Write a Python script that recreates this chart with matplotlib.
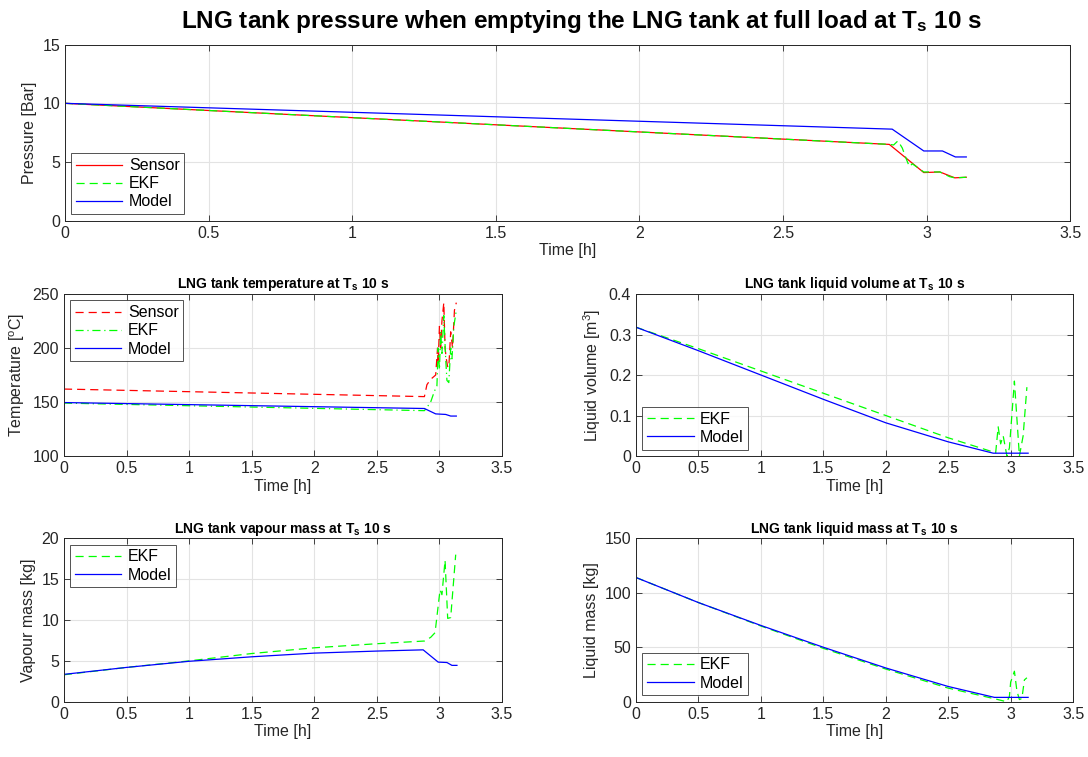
import matplotlib.pyplot as plt
from matplotlib import rcParams

rcParams['font.family'] = ['Liberation Sans', 'DejaVu Sans']
rcParams['mathtext.fontset'] = 'custom'
rcParams['mathtext.rm'] = 'Liberation Sans'
rcParams['mathtext.it'] = 'Liberation Sans'
rcParams['mathtext.bf'] = 'Liberation Sans:bold'
rcParams['lines.dashed_pattern'] = [6.5, 4]
rcParams['lines.dashdot_pattern'] = [6.5, 3, 1, 3]

# ── 数据（从图上读出的折点） ──
# 压力 [Bar]
p_t_sensor = [0, 2.87, 2.99, 3.046, 3.098, 3.138]
p_sensor = [10.0, 6.5, 4.1, 4.15, 3.65, 3.7]
p_t_ekf = [0, 2.87, 2.885, 2.90, 2.915, 2.93, 2.94, 2.95, 2.99, 3.046, 3.08, 3.098, 3.138]
p_ekf = [10.0, 6.5, 6.45, 6.8, 6.2, 5.2, 4.6, 4.85, 4.15, 4.15, 3.75, 3.65, 3.7]
p_t_model = [0, 2.88, 2.99, 3.055, 3.10, 3.138]
p_model = [10.0, 7.8, 5.94, 5.94, 5.43, 5.43]

# 温度 [oC]
T_t_sensor = [0, 2.88, 2.90, 2.93, 2.97, 2.985, 2.99, 3.0, 3.01, 3.02, 3.035, 3.045,
              3.055, 3.065, 3.075, 3.09, 3.105, 3.12, 3.135]
T_sensor = [162, 155, 166, 171, 175, 200, 185, 220, 200, 225, 242, 200,
            190, 183, 182, 215, 200, 235, 242]
T_t_ekf = [0, 2.88, 2.90, 2.93, 2.96, 2.98, 2.99, 3.0, 3.01, 3.02, 3.035, 3.05,
           3.06, 3.075, 3.09, 3.10, 3.115, 3.135]
T_ekf = [149, 142, 145, 150, 160, 165, 200, 180, 215, 195, 230, 190,
         170, 168, 200, 190, 220, 235]
T_t_model = [0, 2.88, 2.97, 3.05, 3.09, 3.135]
T_model = [149.5, 144, 139, 138.5, 137, 137]

# 液体体积 [m3]
V_t_ekf = [0, 0.5, 1, 1.5, 2, 2.5, 2.88, 2.90, 2.92, 2.94, 2.97, 2.99, 3.03, 3.07, 3.10, 3.13]
V_ekf = [0.318, 0.265, 0.21, 0.155, 0.10, 0.045, 0.008, 0.072, 0.03, 0.05, 0.0, 0.02,
         0.185, 0.0, 0.05, 0.17]
V_t_model = [0, 0.5, 1, 1.5, 2, 2.5, 2.86, 3.14]
V_model = [0.318, 0.26, 0.20, 0.14, 0.082, 0.035, 0.007, 0.007]

# 气相质量 [kg]
mv_t_ekf = [0, 0.5, 1, 1.5, 2, 2.5, 2.88, 2.93, 2.965, 3.005, 3.02, 3.045, 3.066, 3.09, 3.13]
mv_ekf = [3.3, 4.2, 5.0, 5.9, 6.6, 7.1, 7.43, 7.88, 8.45, 13.7, 13.1, 17.3, 10.2, 10.3, 18.0]
mv_t_model = [0, 0.5, 1, 1.5, 2, 2.5, 2.87, 2.99, 3.06, 3.10, 3.14]
mv_model = [3.35, 4.2, 4.95, 5.5, 5.95, 6.2, 6.35, 4.85, 4.8, 4.45, 4.45]

# 液相质量 [kg]
ml_t_ekf = [0, 0.5, 1, 1.5, 2, 2.5, 2.88, 2.95, 2.97, 2.99, 3.0, 3.03, 3.05, 3.07, 3.09, 3.11, 3.13]
ml_ekf = [114, 91, 69.5, 49, 30, 12.5, 2.5, 0.5, 0, 5, 18, 28, 10, 2, 3, 20, 22]
ml_t_model = [0, 0.5, 1, 1.5, 2, 2.5, 2.87, 3.14]
ml_model = [114, 91, 70, 50, 31, 14, 4, 4]

RED = '#ff0000'
GREEN = '#00ff00'
BLUE = '#0000ff'
LW = 0.9

fig = plt.figure(figsize=(10.88, 7.57), dpi=100)


def style(ax, xlabel, ylabel, ylim, yticks, title=None):
    ax.set_xlim(0, 3.5)
    ax.set_xticks([0, 0.5, 1, 1.5, 2, 2.5, 3, 3.5])
    ax.set_xticklabels(['0', '0.5', '1', '1.5', '2', '2.5', '3', '3.5'])
    ax.set_ylim(*ylim)
    ax.set_yticks(yticks)
    ax.grid(True, color='#e3e3e3', linewidth=0.8)
    ax.set_axisbelow(True)
    ax.tick_params(direction='in', top=True, right=True, labelsize=11.5,
                   colors='#262626', length=4, width=0.6)
    for s in ax.spines.values():
        s.set_color('#262626')
        s.set_linewidth(0.7)
    ax.set_xlabel(xlabel, fontsize=11.5, color='#262626', labelpad=2)
    ax.set_ylabel(ylabel, fontsize=11.5, color='#262626', labelpad=4)
    if title:
        ax.set_title(title, fontsize=10, fontweight='bold', pad=4)


def legend(ax, loc):
    lg = ax.legend(loc=loc, fontsize=11.5, frameon=True, fancybox=False,
                   edgecolor='#262626', handlelength=2.9, borderpad=0.3,
                   labelspacing=0.2, handletextpad=0.4, borderaxespad=0.4)
    lg.get_frame().set_linewidth(0.7)


# 1. 压力
ax1 = fig.add_axes([0.0597, 0.7085, 0.924, 0.2325])
ax1.plot(p_t_sensor, p_sensor, color=RED, lw=LW, label='Sensor')
ax1.plot(p_t_ekf, p_ekf, '--', color=GREEN, lw=LW, label='EKF')
ax1.plot(p_t_model, p_model, color=BLUE, lw=LW, label='Model')
style(ax1, 'Time [h]', 'Pressure [Bar]', (0, 15), [0, 5, 10, 15])
legend(ax1, 'lower left')

# 2. 温度
ax2 = fig.add_axes([0.0588, 0.3976, 0.4026, 0.214])
ax2.plot(T_t_sensor, T_sensor, '--', color=RED, lw=LW, label='Sensor')
ax2.plot(T_t_ekf, T_ekf, '-.', color=GREEN, lw=LW, label='EKF')
ax2.plot(T_t_model, T_model, color=BLUE, lw=LW, label='Model')
style(ax2, 'Time [h]', 'Temperature [$^{\\mathregular{o}}$C]', (100, 250), [100, 150, 200, 250],
      'LNG tank temperature at $\\mathbf{T_s}$ 10 s')
legend(ax2, 'upper left')

# 3. 液体体积
ax3 = fig.add_axes([0.5846, 0.3976, 0.4017, 0.214])
ax3.plot(V_t_ekf, V_ekf, '--', color=GREEN, lw=LW, label='EKF')
ax3.plot(V_t_model, V_model, color=BLUE, lw=LW, label='Model')
style(ax3, 'Time [h]', 'Liquid volume [m$^{\\mathregular{3}}$]', (0, 0.4), [0, 0.1, 0.2, 0.3, 0.4],
      'LNG tank liquid volume at $\\mathbf{T_s}$ 10 s')
ax3.set_yticklabels(['0', '0.1', '0.2', '0.3', '0.4'])
legend(ax3, 'lower left')

# 4. 气相质量
ax4 = fig.add_axes([0.0588, 0.073, 0.4026, 0.2159])
ax4.plot(mv_t_ekf, mv_ekf, '--', color=GREEN, lw=LW, label='EKF')
ax4.plot(mv_t_model, mv_model, color=BLUE, lw=LW, label='Model')
style(ax4, 'Time [h]', 'Vapour mass [kg]', (0, 20), [0, 5, 10, 15, 20],
      'LNG tank vapour mass at $\\mathbf{T_s}$ 10 s')
legend(ax4, 'upper left')

# 5. 液相质量
ax5 = fig.add_axes([0.5846, 0.073, 0.4017, 0.2159])
ax5.plot(ml_t_ekf, ml_ekf, '--', color=GREEN, lw=LW, label='EKF')
ax5.plot(ml_t_model, ml_model, color=BLUE, lw=LW, label='Model')
style(ax5, 'Time [h]', 'Liquid mass [kg]', (0, 150), [0, 50, 100, 150],
      'LNG tank liquid mass at $\\mathbf{T_s}$ 10 s')
legend(ax5, 'lower left')

fig.suptitle('LNG tank pressure when emptying the LNG tank at full load at $\\mathbf{T_s}$ 10 s',
             fontsize=17.5, fontweight='bold', x=0.534, y=0.99)

plt.savefig('out.png', dpi=100)
